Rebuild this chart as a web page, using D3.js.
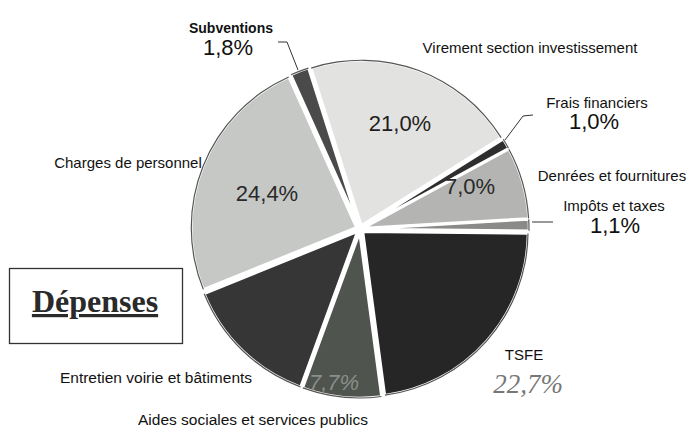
<!DOCTYPE html>
<html><head><meta charset="utf-8">
<script src="https://cdn.jsdelivr.net/npm/d3@7"></script>
<style>body{margin:0;background:#fff}svg{display:block}</style>
</head><body>
<svg id="c" width="690" height="432"></svg>
<script>
const categories = ["Virement section investissement","Frais financiers","Denrées et fournitures","Impôts et taxes","TSFE","Aides sociales et services publics","Entretien voirie et bâtiments","Charges de personnel","Subventions"];
const values = [21.0, 1.0, 7.0, 1.1, 22.7, 7.7, 13.3, 24.4, 1.8];
const valueLabels = ["21,0%","1,0%","7,0%","1,1%","22,7%","7,7%","13,3%","24,4%","1,8%"];
const fills = ["#e2e2e0","#2e2e2e","#b4b4b2","#8a8a88","#262626","#4f544f","#363636","#c6c8c6","#4a4a4a"];

const svg = d3.select("#c");
const cx = 360, cy = 229, R = 165;
const pie = d3.pie().sort(null).value(d => d)
  .startAngle(-17.7*Math.PI/180).endAngle(-17.7*Math.PI/180 + 2*Math.PI);
const arcs = pie(values);
const arc = d3.arc().innerRadius(0).outerRadius(R);
const g = svg.append("g").attr("transform", `translate(${cx},${cy})`);
const explode = 4;
const shift = d => {
  const a = (d.startAngle + d.endAngle)/2;
  return `translate(${Math.sin(a)*explode},${-Math.cos(a)*explode})`;
};
g.selectAll("path.s").data(arcs).enter().append("path").attr("class","s")
  .attr("d", arc).attr("transform", shift)
  .attr("fill", (d,i) => fills[i])
  .attr("stroke", "#fff").attr("stroke-width", 2.5);
const outer = d3.arc().innerRadius(R-0.6).outerRadius(R+0.6);
g.selectAll("path.o").data(arcs).enter().append("path").attr("class","o")
  .attr("d", outer).attr("transform", shift).attr("fill", "#555");

const F = "Liberation Sans, Arial, sans-serif";
// inside percentage labels
const inside = [
  {i:0, x:400, y:131, c:"#1e1e1e"},
  {i:2, x:470, y:194, c:"#2a2a2a"},
  {i:7, x:267, y:201, c:"#2a2a2a"},
  {i:5, x:334, y:390, c:"#8a8f8a", it:true}
];
inside.forEach(o => svg.append("text").attr("x",o.x).attr("y",o.y)
  .attr("text-anchor","middle").attr("font-family",F)
  .attr("font-size",22).attr("fill",o.c).attr("font-style",o.it?"italic":"normal")
  .text(valueLabels[o.i]));

function lbl(t,x,y,size,weight){
  return svg.append("text").attr("x",x).attr("y",y).attr("text-anchor","middle")
    .attr("font-family",F).attr("font-size",size).attr("font-weight",weight||"normal")
    .attr("fill","#111").text(t);
}
lbl(categories[8], 231, 33, 14, "bold");
lbl(valueLabels[8], 228, 55, 22);
lbl(categories[0], 530, 53, 15);
lbl(categories[1], 597, 108, 15);
lbl(valueLabels[1], 594, 129, 22);
lbl(categories[2], 612, 181, 15);
lbl(categories[3], 614, 211, 15);
lbl(valueLabels[3], 615, 233, 22);
lbl(categories[4], 524, 360, 15);
svg.append("text").attr("x",528).attr("y",393).attr("text-anchor","middle")
  .attr("font-family","Liberation Serif, serif").attr("font-style","italic")
  .attr("font-size",27).attr("fill","#777").text(valueLabels[4]);
lbl(categories[7], 128, 168, 15);
lbl(categories[6], 156, 383, 15.5);
lbl(categories[5], 253, 425, 15.5);

// leader lines
const L = d3.line();
const leaders = [
  [[278,42],[287,42],[298,70]],
  [[533,115],[523,116],[505,140]],
  [[532,222],[553,222]]
];
svg.selectAll("path.l").data(leaders).enter().append("path").attr("class","l")
  .attr("d", L).attr("fill","none").attr("stroke","#333").attr("stroke-width",1);

// Dépenses box
svg.append("rect").attr("x",9.5).attr("y",268.5).attr("width",173).attr("height",75)
  .attr("fill","#fff").attr("stroke","#333").attr("stroke-width",1.3);
svg.append("text").attr("x",95).attr("y",312).attr("text-anchor","middle")
  .attr("font-family","Liberation Serif, Times New Roman, serif").attr("font-weight","bold")
  .attr("font-size",32).attr("fill","#2a2a2a").attr("text-decoration","underline").text("Dépenses");
</script>
</body></html>
